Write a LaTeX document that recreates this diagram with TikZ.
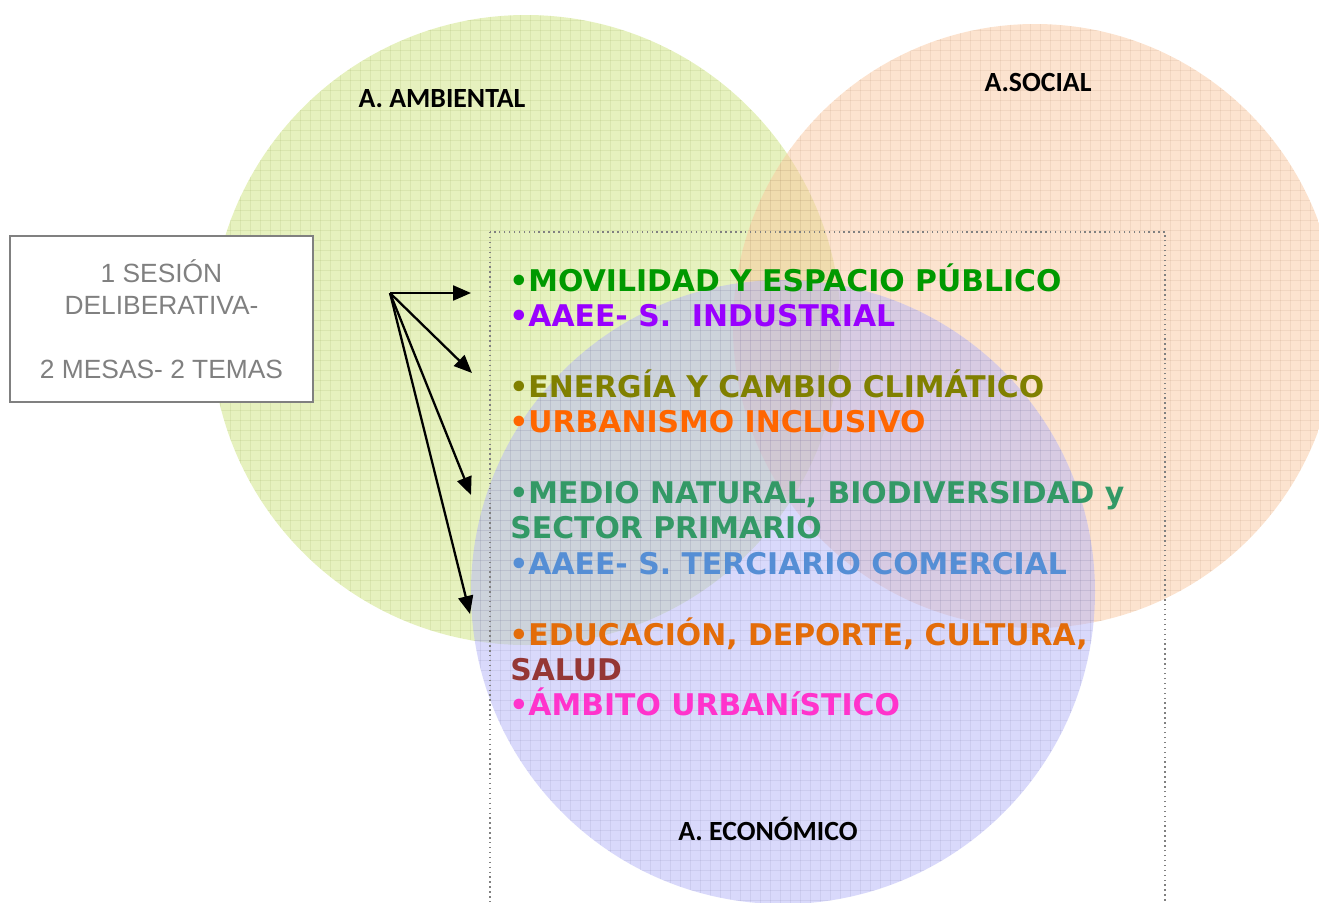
\documentclass[tikz,border=0pt]{standalone}
\usepackage{fontspec}
\setmainfont{Liberation Sans}
\newfontfamily\listfont{DejaVu Sans}
\newfontfamily\areafont{Carlito}
\usetikzlibrary{arrows.meta}

\definecolor{verdeamb}{RGB}{205,228,125}
\definecolor{naranjasoc}{RGB}{250,200,160}
\definecolor{azuleco}{RGB}{180,180,248}
\definecolor{cajagris}{RGB}{128,128,128}
\definecolor{temaverde}{RGB}{0,153,0}
\definecolor{temamorado}{RGB}{153,0,255}
\definecolor{temaoliva}{RGB}{128,128,0}
\definecolor{temanaranja}{RGB}{255,102,0}
\definecolor{temamar}{RGB}{51,153,102}
\definecolor{temaazul}{RGB}{85,142,213}
\definecolor{temacalabaza}{RGB}{227,108,9}
\definecolor{temagranate}{RGB}{149,55,53}
\definecolor{temarosa}{RGB}{255,51,204}

\tikzset{
	tema/.style={anchor=base west,inner sep=0pt,font=\listfont\bfseries\fontsize{17}{19}\selectfont},
	area/.style={font=\areafont\bfseries\fontsize{15.8}{18}\selectfont},
	flecha/.style={-{Triangle[length=0.36cm,width=0.3cm]},line width=1.3pt},
	trama/.style={line width=0.3pt,opacity=0.15},
}

\begin{document}
\begin{tikzpicture}[x=0.02cm,y=-0.02cm]
	\useasboundingbox (0,0) rectangle (1319,903);
	\clip (0,0) rectangle (1319,903);

	%A. ambiental
	\begin{scope}
		\clip (526,330) circle (315);
		\fill[verdeamb,fill opacity=0.5] (200,0) rectangle (850,660);
		\foreach \i in {210,220,...,840} \draw[trama,verdeamb!70!black] (\i,0) -- (\i,660);
		\foreach \j in {10,20,...,650} \draw[trama,verdeamb!70!black] (200,\j) -- (850,\j);
	\end{scope}
	%A. social
	\begin{scope}
		\clip (1035,326) circle (302);
		\fill[naranjasoc,fill opacity=0.5] (720,0) rectangle (1319,640);
		\foreach \i in {730,740,...,1310} \draw[trama,naranjasoc!70!black] (\i,0) -- (\i,640);
		\foreach \j in {20,30,...,630} \draw[trama,naranjasoc!70!black] (720,\j) -- (1319,\j);
	\end{scope}
	%A. economico
	\begin{scope}
		\clip (783,592) circle (312);
		\fill[azuleco,fill opacity=0.5] (460,270) rectangle (1110,903);
		\foreach \i in {470,480,...,1100} \draw[trama,azuleco!70!black] (\i,270) -- (\i,903);
		\foreach \j in {280,290,...,900} \draw[trama,azuleco!70!black] (460,\j) -- (1110,\j);
	\end{scope}

	\node[area] (ambiental) at (442,99) {A. AMBIENTAL};
	\node[area] (social) at (1038,82) {A.SOCIAL};
	\node[area] (economico) at (768,829) {A. ECONÓMICO};

	%marco de temas
	\draw[cajagris,dotted,line width=0.8pt] (490,232) rectangle (1165,920);

	%caja sesion
	\node[draw=cajagris,line width=1.2pt,fill=white,minimum width=6.06cm,minimum height=3.32cm,
		align=center,text=cajagris,font=\fontsize{15}{18.1}\selectfont] (sesion) at (161.5,319)
		{1 SESIÓN\\DELIBERATIVA-\\[18.1pt]2 MESAS- 2 TEMAS};

	%temas
	\node[tema,text=temaverde] (movilidad) at (509,291) {•MOVILIDAD Y ESPACIO PÚBLICO};
	\node[tema,text=temamorado] (industrial) at (509,326) {•AAEE- S.\ \ INDUSTRIAL};
	\node[tema,text=temaoliva] (energia) at (509,397) {•ENERGÍA Y CAMBIO CLIMÁTICO};
	\node[tema,text=temanaranja] (urbanismo) at (509,432) {•URBANISMO INCLUSIVO};
	\node[tema,text=temamar] (medio) at (509,503) {•MEDIO NATURAL, BIODIVERSIDAD y};
	\node[tema,text=temamar] (primario) at (510,538) {SECTOR PRIMARIO};
	\node[tema,text=temaazul] (terciario) at (509,574) {•AAEE- S. TERCIARIO COMERCIAL};
	\node[tema,text=temacalabaza] (educacion) at (509,645) {•EDUCACIÓN, DEPORTE, CULTURA,};
	\node[tema,text=temagranate] (salud) at (510,680) {SALUD};
	\node[tema,text=temarosa] (ambito) at (509,715) {•ÁMBITO URBANíSTICO};

	%flechas a las mesas
	\coordinate (hub) at (390,293);
	\coordinate (mesa1) at (471,293);
	\coordinate (mesa2) at (472,373);
	\coordinate (mesa3) at (471,495);
	\coordinate (mesa4) at (470,614);
	\draw[flecha] (hub) -- (mesa1);
	\draw[flecha] (hub) -- (mesa2);
	\draw[flecha] (hub) -- (mesa3);
	\draw[flecha] (hub) -- (mesa4);
\end{tikzpicture}
\end{document}
